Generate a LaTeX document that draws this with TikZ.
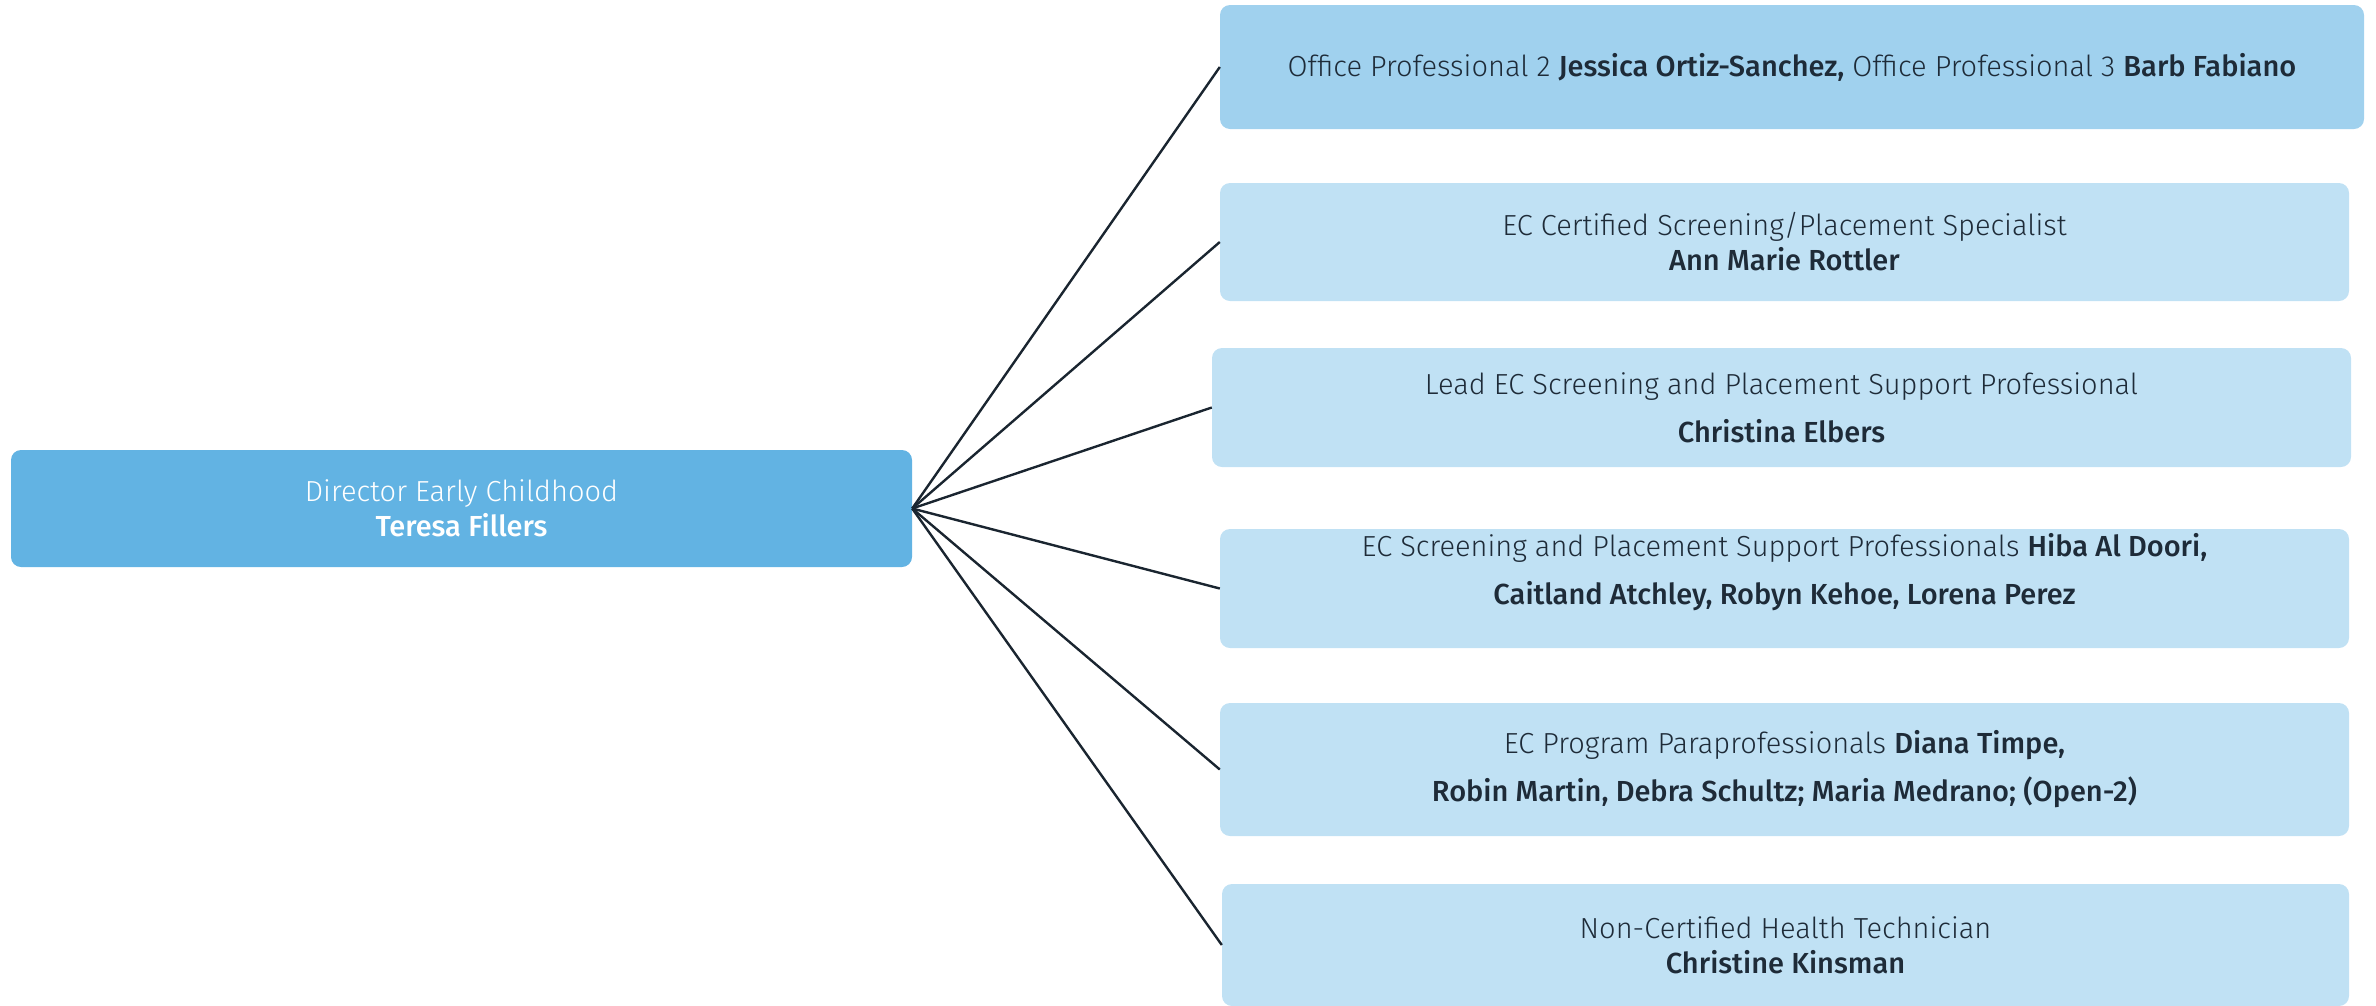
\documentclass[tikz,border=0pt]{standalone}
\usepackage{fontspec}
\setmainfont{Fira Sans}[UprightFont=* Light, BoldFont=* Medium]
\definecolor{rootfill}{HTML}{62B3E3}
\definecolor{topfill}{HTML}{A0D1EE}
\definecolor{kidfill}{HTML}{C0E1F4}
\definecolor{ink}{HTML}{1E2B38}
\definecolor{edge}{HTML}{1A2530}
\tikzset{
  x=1pt, y=-1pt,
  box/.style={rounded corners=10pt, inner sep=0pt, align=center, text=ink,
    font=\fontsize{29}{35}\selectfont},
  wide/.style={font=\fontsize{29}{48}\selectfont},
  link/.style={draw=edge, line width=2.4pt}
}
\begin{document}
\begin{tikzpicture}
\useasboundingbox (0,0) rectangle (2376,1005);
\begin{scope}
\clip (0,0) rectangle (2376,1005);
\node[box, fill=rootfill, text=white, minimum width=901pt, minimum height=117pt] (root) at (461.5,508.5)
  {Director Early Childhood\\\textbf{Teresa Fillers}};
\node[box, fill=topfill, minimum width=1144pt, minimum height=124pt] (b1) at (1792,67)
  {Office Professional 2 \textbf{Jessica Ortiz-Sanchez,} Office Professional 3 \textbf{Barb Fabiano}};
\node[box, fill=kidfill, minimum width=1129pt, minimum height=118pt] (b2) at (1784.5,242)
  {EC Certified Screening/Placement Specialist\\\textbf{Ann Marie Rottler}};
\node[box, wide, fill=kidfill, minimum width=1139pt, minimum height=119pt] (b3) at (1781.5,407.5)
  {Lead EC Screening and Placement Support Professional\\\textbf{Christina Elbers}};
\node[box, fill=kidfill, minimum width=1129pt, minimum height=119pt] (b4) at (1784.5,588.5) {};
\node[box, wide, fill=none] (t4) at ([yshift=16pt]b4.center)
  {EC Screening and Placement Support Professionals \textbf{Hiba Al Doori,}\\\textbf{Caitland Atchley, Robyn Kehoe, Lorena Perez}};
\node[box, wide, fill=kidfill, minimum width=1129pt, minimum height=133pt] (b5) at (1784.5,769.5)
  {EC Program Paraprofessionals \textbf{Diana Timpe,}\\\textbf{Robin Martin, Debra Schultz; Maria Medrano; (Open-2)}};
\node[box, fill=kidfill, minimum width=1127pt, minimum height=122pt] (b6) at (1785.5,945)
  {Non-Certified Health Technician\\\textbf{Christine Kinsman}};
\foreach \n in {b1,b2,b3,b4,b5,b6}
  \draw[link] (root.east) -- (\n.west);
\end{scope}
\end{tikzpicture}
\end{document}
